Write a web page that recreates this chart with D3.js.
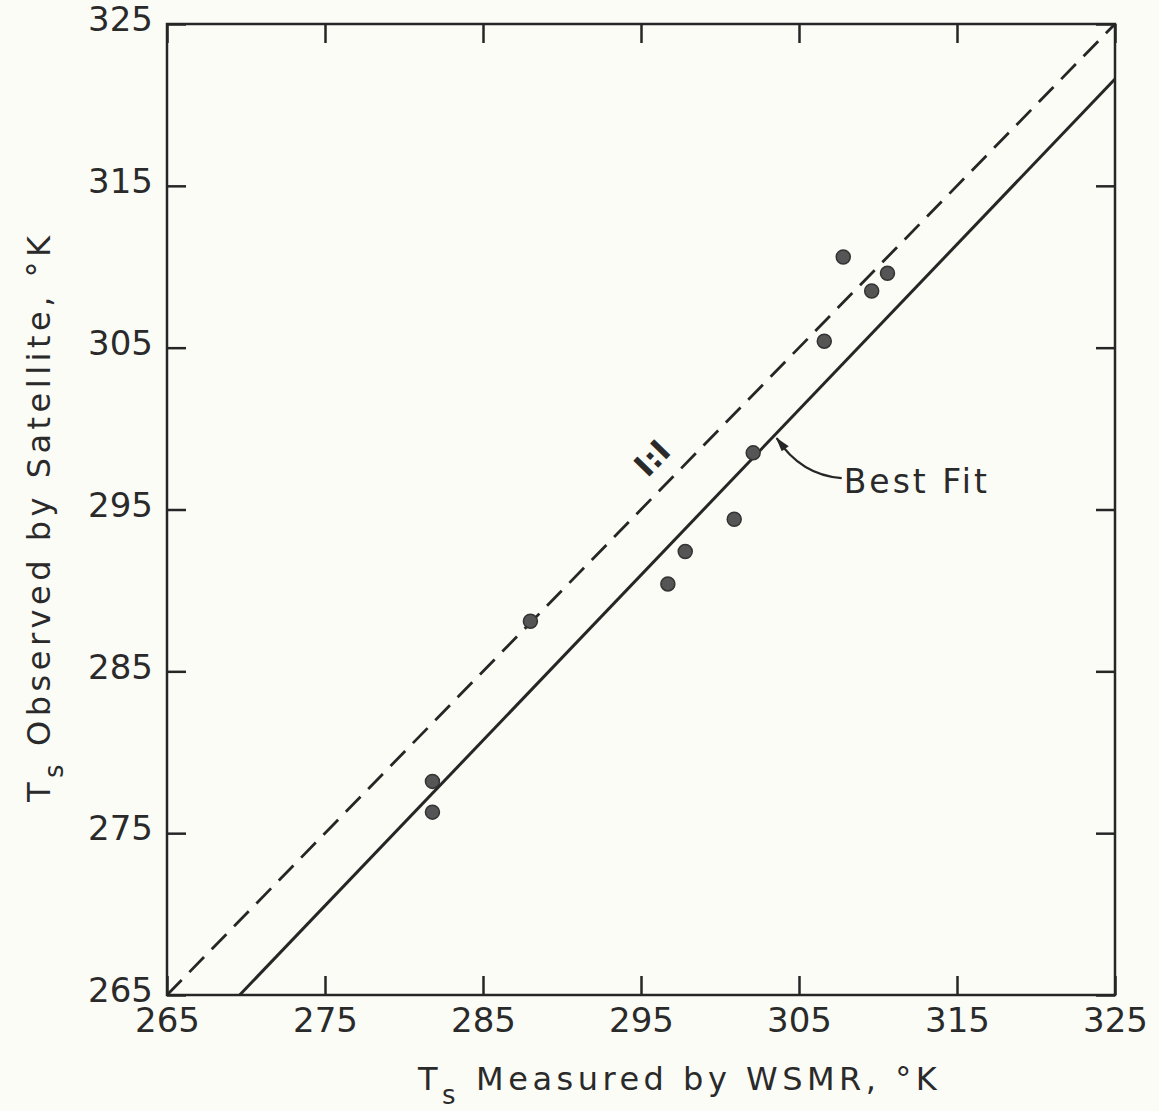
<!DOCTYPE html>
<html>
<head>
<meta charset="utf-8">
<script src="https://cdn.jsdelivr.net/npm/d3@7"></script>
<style>
  body { margin: 0; background: #fcfcf7; }
  svg { display: block; }
  text { font-family: "DejaVu Sans", "Liberation Sans", sans-serif; fill: #2a2a2a; }
</style>
</head>
<body>
<div id="container"></div>
<script>
// values (degrees K)
var measured = [281.8, 281.8, 288.0, 296.7, 297.8, 300.9, 302.1, 306.6, 307.8, 309.6, 310.6];
var observed = [278.2, 276.3, 288.1, 290.4, 292.4, 294.4, 298.5, 305.4, 310.6, 308.5, 309.6];
var oneToOne = [[265, 265], [325, 325]];
var bestFit = [[269.6, 265], [325, 321.6]];
var tickValues = [265, 275, 285, 295, 305, 315, 325];

var width = 1159, height = 1111;
var margin = { top: 24, right: 44, bottom: 116, left: 167 };
var w = width - margin.left - margin.right,
  h = height - margin.top - margin.bottom;

var x = d3.scaleLinear().domain([265, 325]).range([0, w]);
var y = d3.scaleLinear().domain([265, 325]).range([h, 0]);

var svg = d3.select("#container").append("svg")
  .attr("width", width).attr("height", height);
var g = svg.append("g")
  .attr("transform", "translate(" + margin.left + "," + margin.top + ")");

var ink = "#262626";

// frame
g.append("rect").attr("width", w).attr("height", h)
  .attr("fill", "none").attr("stroke", ink).attr("stroke-width", 2.5);

// axes, ticks pointing inward
function styleAxis(sel) {
  sel.select(".domain").remove();
  sel.selectAll(".tick line").attr("stroke", ink).attr("stroke-width", 2.5);
  sel.selectAll(".tick text").attr("font-size", 34).attr("fill", "#2a2a2a")
    .style("font-family", "'DejaVu Sans', sans-serif");
}
g.append("g").attr("transform", "translate(0," + h + ")")
  .call(d3.axisBottom(x).tickValues(tickValues).tickSize(-19).tickPadding(13).tickFormat(d3.format("d")))
  .call(styleAxis);
g.append("g")
  .call(d3.axisLeft(y).tickValues(tickValues).tickSize(-19).tickPadding(14).tickFormat(d3.format("d")))
  .call(styleAxis)
  .selectAll(".tick text").attr("dy", "0.2em");
g.append("g")
  .call(d3.axisTop(x).tickValues(tickValues).tickSize(-19).tickFormat(""))
  .call(styleAxis);
g.append("g").attr("transform", "translate(" + w + ",0)")
  .call(d3.axisRight(y).tickValues(tickValues).tickSize(-19).tickFormat(""))
  .call(styleAxis);

var line = d3.line().x(function (d) { return x(d[0]); }).y(function (d) { return y(d[1]); });

g.append("path").datum(oneToOne).attr("d", line)
  .attr("fill", "none").attr("stroke", ink).attr("stroke-width", 2.8)
  .attr("stroke-dasharray", "21,11");
g.append("path").datum(bestFit).attr("d", line)
  .attr("fill", "none").attr("stroke", ink).attr("stroke-width", 3);

// points
g.selectAll(".pt").data(measured).enter().append("circle")
  .attr("class", "pt")
  .attr("cx", function (d) { return x(d); })
  .attr("cy", function (d, i) { return y(observed[i]); })
  .attr("r", 7)
  .attr("fill", "#555")
  .attr("stroke", "#333").attr("stroke-width", 1.5);

// 1:1 label along the dashed line
var angle = -Math.atan2(y(265) - y(325), x(325) - x(265)) * 180 / Math.PI;
g.append("text")
  .attr("transform", "translate(" + x(296.2) + "," + y(297.7) + ") rotate(" + angle + ")")
  .attr("text-anchor", "middle")
  .attr("font-size", 31).attr("font-weight", "bold")
  .text("I:I");

// Best Fit label and leader
var fx = 303.4, fy = 265 + (fx - 269.6) * (56.6 / 55.4);
var px = x(fx), py = y(fy);
g.append("path")
  .attr("d", "M" + (px + 3) + "," + (py + 2) + " C" + (px + 18) + "," + (py + 25) + " " + (px + 40) + "," + (py + 40) + " " + (px + 68) + "," + (py + 42))
  .attr("fill", "none").attr("stroke", ink).attr("stroke-width", 2.2);
g.append("path")
  .attr("d", "M" + (px + 2) + "," + (py + 1) + " L" + (px + 15) + "," + (py + 10) + " L" + (px + 8) + "," + (py + 15) + " Z")
  .attr("fill", ink);
g.append("text")
  .attr("x", px + 70).attr("y", py + 57)
  .attr("font-size", 33).attr("letter-spacing", 3)
  .text("Best Fit");

// axis titles
var xt = svg.append("text")
  .attr("x", 418).attr("y", 1090)
  .attr("font-size", 32).attr("letter-spacing", 4.5);
xt.append("tspan").text("T");
xt.append("tspan").attr("font-size", 26).attr("dy", 14).text("s");
xt.append("tspan").attr("dy", -14).attr("dx", 16).text("Measured by WSMR, °K");

var yt = svg.append("text")
  .attr("transform", "translate(50,802) rotate(-90)")
  .attr("font-size", 32).attr("letter-spacing", 4.5);
yt.append("tspan").text("T");
yt.append("tspan").attr("font-size", 26).attr("dy", 13).text("s");
yt.append("tspan").attr("dy", -13).attr("dx", 14).text("Observed by Satellite, °K");
</script>
</body>
</html>
